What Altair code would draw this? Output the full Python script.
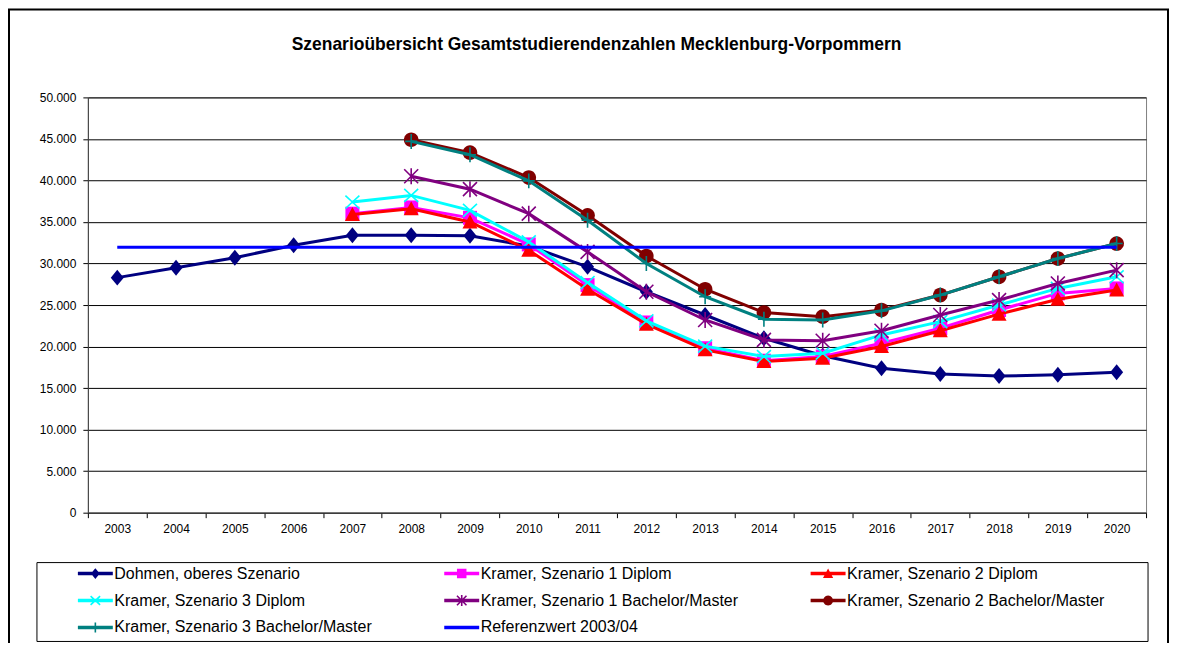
import math
import altair as alt
import pandas as pd

FONT = "Liberation Sans"

# ---------------- data ----------------
years = [str(y) for y in range(2003, 2021)]
series_names = [
    "Dohmen, oberes Szenario",
    "Kramer, Szenario 1 Diplom",
    "Kramer, Szenario 2 Diplom",
    "Kramer, Szenario 3 Diplom",
    "Kramer, Szenario 1 Bachelor/Master",
    "Kramer, Szenario 2 Bachelor/Master",
    "Kramer, Szenario 3 Bachelor/Master",
    "Referenzwert 2003/04",
]
N = None
dohmen = [28300, 29500, 30700, 32200, 33400, 33400, 33350, 32100, 29600, 26600,
          23800, 21000, 18900, 17400, 16700, 16450, 16600, 16900]
kramer_s1_diplom = [N, N, N, N, 36000, 36750, 35500, 32300, 27400, 22900,
                    19800, 18300, 18800, 20400, 22200, 24400, 26400, 27000]
kramer_s2_diplom = [N, N, N, N, 35900, 36600, 35000, 31600, 26900, 22700,
                    19600, 18200, 18600, 20000, 21900, 23900, 25700, 26800]
kramer_s3_diplom = [N, N, N, N, 37400, 38200, 36400, 32600, 27700, 23100,
                    20050, 18800, 19200, 21400, 23000, 25000, 27000, 28400]
kramer_s1_bm = [N, N, N, N, N, 40500, 38950, 36000, 31400, 26600,
                23200, 20800, 20700, 21900, 23800, 25600, 27600, 29200]
kramer_s2_bm = [N, N, N, N, N, 44900, 43350, 40350, 35800, 30900,
                26900, 24100, 23600, 24400, 26200, 28400, 30600, 32400]
kramer_s3_bm = [N, N, N, N, N, 44700, 43100, 39950, 35200, 30000,
                26000, 23300, 23200, 24300, 26200, 28400, 30600, 32400]
referenz = [31950] * 18
y_ticks = list(range(0, 50001, 5000))

all_values = [dohmen, kramer_s1_diplom, kramer_s2_diplom, kramer_s3_diplom,
              kramer_s1_bm, kramer_s2_bm, kramer_s3_bm, referenz]
rows = []
for name, vals in zip(series_names, all_values):
    for yr, v in zip(years, vals):
        if v is not None:
            rows.append({"series": name, "year": yr, "value": v})
df = pd.DataFrame(rows)

# ---------------- styles ----------------
colors = ["#000080", "#FF00FF", "#FF0000", "#00FFFF", "#800080", "#800000", "#008080", "#0000FF"]
U = 5.0  # pixels per symbol-path unit for size=100


def _poly(pts):
    n = len(pts)
    a = sum(pts[i][0] * pts[(i + 1) % n][1] - pts[(i + 1) % n][0] * pts[i][1] for i in range(n))
    if a < 0:
        pts = pts[::-1]
    return "M" + " L".join(f"{x / U:.3f},{y / U:.3f}" for x, y in pts) + " Z"


def _bar(x1, y1, x2, y2, t):
    dx, dy = x2 - x1, y2 - y1
    L = math.hypot(dx, dy)
    nx, ny = -dy / L * t, dx / L * t
    return _poly([(x1 + nx, y1 + ny), (x2 + nx, y2 + ny), (x2 - nx, y2 - ny), (x1 - nx, y1 - ny)])


def _circle(r, n=28):
    return _poly([(r * math.cos(2 * math.pi * k / n), r * math.sin(2 * math.pi * k / n)) for k in range(n)])


def marker(kind, k):
    if kind == "diamond":
        return _poly([(0, -8 * k), (6.5 * k, 0), (0, 8 * k), (-6.5 * k, 0)])
    if kind == "square":
        s = 7 * k
        return _poly([(-s, -s), (s, -s), (s, s), (-s, s)])
    if kind == "triangle":
        return _poly([(0, -7.5 * k), (7.5 * k, 6.5 * k), (-7.5 * k, 6.5 * k)])
    if kind == "x":
        return " ".join([_bar(-7 * k, -6.5 * k, 7 * k, 6.5 * k, 0.8), _bar(-7 * k, 6.5 * k, 7 * k, -6.5 * k, 0.8)])
    if kind == "asterisk":
        return " ".join([_bar(-7 * k, -7 * k, 7 * k, 7 * k, 0.8), _bar(-7 * k, 7 * k, 7 * k, -7 * k, 0.8),
                         _bar(0, -8 * k, 0, 8 * k, 0.8)])
    if kind == "circle":
        return _circle(7.3 * k)
    if kind == "plus":
        return " ".join([_bar(0, -7.5 * k, 0, 7.5 * k, 0.8), _bar(-6 * k, 0, 6 * k, 0, 0.8)])
    return ""


kinds = ["diamond", "square", "triangle", "x", "asterisk", "circle", "plus", None]
chart_shapes = [marker(k, 1.0) if k else None for k in kinds]
legend_line = _bar(-17.5, 0, 17.5, 0, 1.75)
legend_paths = [legend_line + (" " + marker(k, 0.68) if k else "") for k in kinds]

# legend entries are filled column by column: order them so rows read like the original
legend_order = [0, 3, 6, 1, 4, 7, 2, 5]
legend_domain = [series_names[i] for i in legend_order]
legend_colors = [colors[i] for i in legend_order]
legend_shapes = [legend_paths[i] for i in legend_order]

# ---------------- encodings ----------------
x_enc = alt.X(
    "year:O",
    bandPosition=0.5,
    scale=alt.Scale(type="band", domain=years, paddingInner=0, paddingOuter=0),
    axis=alt.Axis(title=None, labelAngle=0, tickBand="extent", tickSize=5, labelPadding=6,
                  labelFontSize=12, labelFont=FONT, labelColor="black", tickColor="black",
                  domainColor="#404040", grid=False),
)
y_enc = alt.Y(
    "value:Q",
    scale=alt.Scale(domain=[0, 50000], nice=False),
    axis=alt.Axis(title=None, values=y_ticks,
                  labelExpr="replace(format(datum.value, ','), ',', '.')",
                  grid=True, gridColor="#000000", gridWidth=1, tickSize=5, tickColor="black",
                  labelPadding=7, labelFontSize=12, labelFont=FONT, labelColor="black",
                  domainColor="#404040"),
)

one = pd.DataFrame({"k": [0]})
frame = alt.Chart(one).mark_rect(filled=False, stroke="black", strokeWidth=2).encode(
    x=alt.value(-79), x2=alt.value(1082), y=alt.value(-88), y2=alt.value(600))
legend_box = alt.Chart(one).mark_rect(filled=False, stroke="black", strokeWidth=1).encode(
    x=alt.value(-51), x2=alt.value(1062), y=alt.value(466), y2=alt.value(545))

layers = [frame, legend_box]
for name, color, shp in zip(series_names, colors, chart_shapes):
    base = alt.Chart(df).transform_filter(alt.datum.series == name)
    layers.append(base.mark_line(color=color, strokeWidth=3).encode(x=x_enc, y=y_enc))
    if shp:
        layers.append(base.mark_point(shape=shp, filled=True, size=100, color=color,
                                      opacity=1, strokeWidth=0).encode(x=x_enc, y=y_enc))

legend_layer = alt.Chart(df).transform_filter("false").mark_point(
    filled=True, size=100, opacity=1, strokeWidth=0).encode(
    color=alt.Color("series:N", scale=alt.Scale(domain=legend_domain, range=legend_colors),
                    legend=alt.Legend(title=None)),
    shape=alt.Shape("series:N", scale=alt.Scale(domain=legend_domain, range=legend_shapes),
                    legend=alt.Legend(title=None)),
)
layers.append(legend_layer)

chart = alt.layer(*layers).properties(
    width=1060,
    height=416,
    padding={"left": 80, "top": 89, "right": 24, "bottom": 130},
    autosize=alt.AutoSizeParams(type="none"),
    background="white",
    title=alt.TitleParams(
        "Szenarioübersicht Gesamtstudierendenzahlen Mecklenburg-Vorpommern",
        font=FONT, fontSize=17.5, fontWeight="bold", color="black", anchor="middle",
        offset=-45, dx=-20.5),
).configure_view(
    stroke="#808080", strokeWidth=1
).configure_legend(
    orient="none", legendX=-10, legendY=469, columns=3, symbolOffset=9.5, labelOffset=11,
    rowPadding=11, columnPadding=72, labelFontSize=16, labelFont=FONT, labelColor="black",
    labelLimit=500, padding=0, symbolSize=100, symbolStrokeWidth=0, symbolOpacity=1,
)

chart.save("out.html", embed_options={"renderer": "svg", "actions": False})
